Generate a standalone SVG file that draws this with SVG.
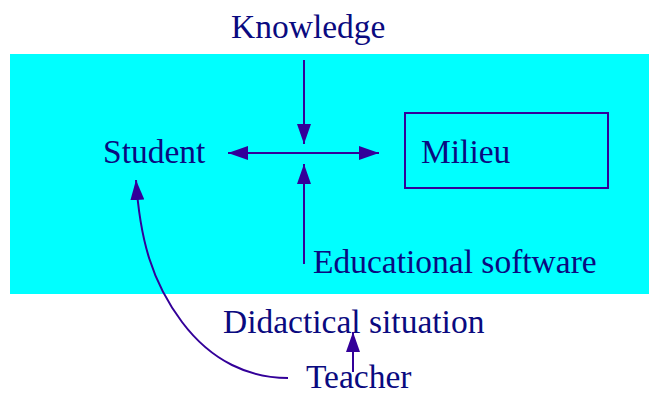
<svg xmlns="http://www.w3.org/2000/svg" width="651" height="394" viewBox="0 0 651 394">
  <defs>
    <marker id="head" viewBox="0 0 20 14" refX="20" refY="7" markerWidth="20" markerHeight="14" markerUnits="userSpaceOnUse" orient="auto-start-reverse">
      <path d="M0,0 L20,7 L0,14 Z" fill="#330099"/>
    </marker>
    <style>
      .lbl { font-family: "Liberation Serif", "Times New Roman", serif; font-size: 33.5px; fill: #0a0a80; }
      .edge { stroke: #330099; stroke-width: 2; fill: none; }
    </style>
  </defs>

  <!-- didactical situation area -->
  <rect x="10" y="54" width="639" height="240" fill="#00ffff"/>

  <g id="knowledge"><text class="lbl" x="231" y="38">Knowledge</text></g>
  <g id="student"><text class="lbl" x="103" y="163">Student</text></g>
  <g id="milieu">
    <rect x="405" y="113" width="203" height="75" fill="none" stroke="#330099" stroke-width="2"/>
    <text class="lbl" x="421" y="163">Milieu</text>
  </g>
  <g id="software"><text class="lbl" x="313" y="273">Educational software</text></g>
  <g id="situation"><text class="lbl" x="223" y="333">Didactical situation</text></g>
  <g id="teacher"><text class="lbl" x="306" y="388">Teacher</text></g>

  <g id="connectors">
    <line class="edge" x1="304" y1="60" x2="304" y2="144" marker-end="url(#head)"/>
    <line class="edge" x1="228" y1="153" x2="379" y2="153" marker-start="url(#head)" marker-end="url(#head)"/>
    <line class="edge" x1="304" y1="264" x2="304" y2="164" marker-end="url(#head)"/>
    <path class="edge" d="M288,378 C250,378 212,362 182,322 C152,282 140,240 136,180" marker-end="url(#head)"/>
    <line class="edge" x1="353" y1="372" x2="353" y2="332" marker-end="url(#head)"/>
  </g>
</svg>
